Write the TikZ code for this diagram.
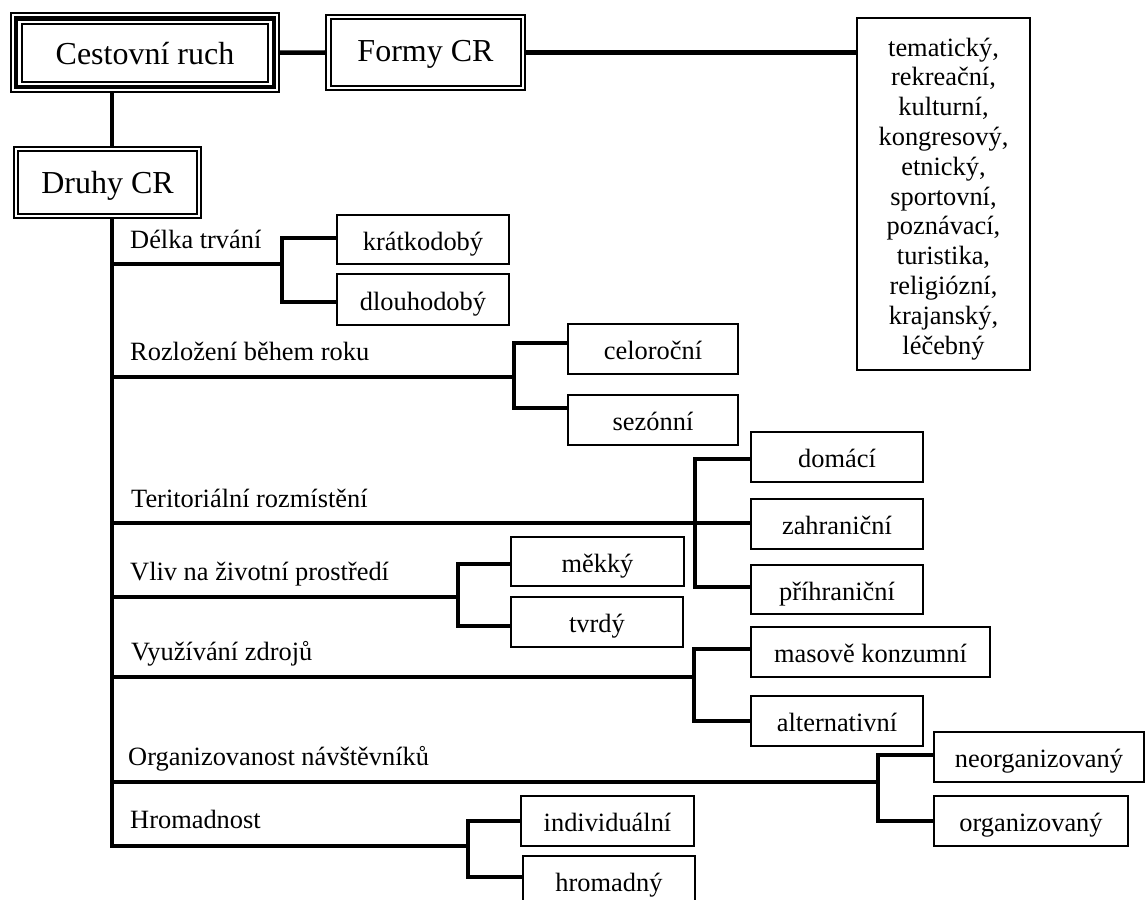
\documentclass[tikz,border=0pt]{standalone}
\usepackage{fontspec}
\setmainfont{Liberation Serif}
\newcommand\myBig{\fontsize{32}{38}\selectfont}
\newcommand\mySmall{\fontsize{26.4}{30}\selectfont}
\newcommand\myList{\fontsize{26.4}{29.8}\selectfont}
\begin{document}
\begin{tikzpicture}[x=1pt,y=-1pt,
  conn/.style={line width=4.5pt},
  thin/.style={line width=2pt},
  sbox/.style={draw, line width=2pt, inner sep=0pt, text height=21pt, text depth=0pt, font=\mySmall},
  bbox/.style={draw, line width=2pt, inner sep=0pt, text height=22pt, text depth=0pt, font=\myBig},
  lab/.style={inner sep=0pt, anchor=base west, font=\mySmall}]
\useasboundingbox (0,0) rectangle (1147,899);
\clip (0,0) rectangle (1147,899);

% main boxes
\node[bbox, minimum width=268pt, minimum height=78.5pt, text height=24pt] (cr) at (145,52.75) {Cestovní ruch};
\draw[line width=4.5pt] ([shift={(6pt,-6pt)}]cr.north west) rectangle ([shift={(-6pt,6pt)}]cr.south east);
\draw[thin] ([shift={(12pt,-11.5pt)}]cr.north west) rectangle ([shift={(-12.5pt,11pt)}]cr.south east);

\node[bbox, minimum width=199pt, minimum height=75pt, text height=19pt] (fcr) at (425.5,52.5) {Formy CR};
\draw[thin] ([shift={(5.5pt,-5.5pt)}]fcr.north west) rectangle ([shift={(-5.5pt,5.5pt)}]fcr.south east);

\node[bbox, minimum width=187pt, minimum height=71pt, text height=21pt] (druhy) at (107.5,182.5) {Druhy CR};
\draw[thin] ([shift={(5pt,-5pt)}]druhy.north west) rectangle ([shift={(-5pt,5pt)}]druhy.south east);

\node[draw, thin, inner sep=0pt, minimum width=173pt, minimum height=352pt, text height=320pt, text depth=0pt, font=\myList] (list) at (943.5,194)
  {\begin{tabular}[b]{@{}c@{}}tematický,\\rekreační,\\kulturní,\\kongresový,\\etnický,\\sportovní,\\poznávací,\\turistika,\\religiózní,\\krajanský,\\léčebný\end{tabular}};

\draw[conn] (cr.east) -- (fcr.west);
\draw[conn] (fcr.east) -- (fcr.east -| list.west);

\coordinate (tx) at (112,0);
\draw[conn] (cr.south -| tx) -- (druhy.north -| tx);

% labels
\node[lab] (l1) at (130,248) {Délka trvání};
\node[lab] (l2) at (130,360) {Rozložení během roku};
\node[lab] (l3) at (131,507) {Teritoriální rozmístění};
\node[lab] (l4) at (130,580) {Vliv na životní prostředí};
\node[lab] (l5) at (131,660) {Využívání zdrojů};
\node[lab] (l6) at (128,765) {Organizovanost návštěvníků};
\node[lab] (l7) at (130,828) {Hromadnost};

% leaf boxes
\node[sbox, minimum width=172pt, minimum height=49pt] (kr) at (423,239.5) {krátkodobý};
\node[sbox, minimum width=172pt, minimum height=51pt] (dl) at (423,299.5) {dlouhodobý};
\node[sbox, minimum width=170pt, minimum height=50pt] (cel) at (653,349) {celoroční};
\node[sbox, minimum width=170pt, minimum height=50pt] (sez) at (653,420) {sezónní};
\node[sbox, minimum width=172pt, minimum height=50pt] (dom) at (837,457) {domácí};
\node[sbox, minimum width=172pt, minimum height=50pt] (zah) at (837,524) {zahraniční};
\node[sbox, minimum width=172pt, minimum height=49pt] (pri) at (837,589.5) {příhraniční};
\node[sbox, minimum width=173pt, minimum height=49pt] (mek) at (597.5,561.5) {měkký};
\node[sbox, minimum width=172pt, minimum height=50pt] (tvr) at (597,622) {tvrdý};
\node[sbox, minimum width=239pt, minimum height=50pt] (mas) at (870.5,652) {masově konzumní};
\node[sbox, minimum width=172pt, minimum height=50pt] (alt) at (837,721) {alternativní};
\node[sbox, minimum width=210pt, minimum height=50pt] (neo) at (1039,757) {neorganizovaný};
\node[sbox, minimum width=194pt, minimum height=50pt] (org) at (1031,821) {organizovaný};
\node[sbox, minimum width=173pt, minimum height=50pt] (ind) at (607.5,821) {individuální};
\node[sbox, minimum width=172pt, minimum height=50pt] (hro) at (609,881) {hromadný};

% bracket points
\coordinate (b1) at (282,264);
\coordinate (b2) at (514,377);
\coordinate (b3) at (695,523);
\coordinate (b4) at (458,597);
\coordinate (b5) at (694,677);
\coordinate (b6) at (878,782);
\coordinate (b7) at (468,846);

% trunk
\draw[conn] (druhy.south -| tx) |- (b7);

% branches
\draw[conn] (tx |- b1) -- (b1);
\draw[conn] ([yshift=1.5pt]kr.west) -| (b1) |- ([yshift=-2.5pt]dl.west);
\draw[conn] (tx |- b2) -- (b2);
\draw[conn] ([yshift=6pt]cel.west) -| (b2) |- ([yshift=12pt]sez.west);
\draw[conn] (tx |- b3) -- (zah.west |- b3);
\draw[conn] ([yshift=-2pt]dom.west) -| (b3) |- ([yshift=2.5pt]pri.west);
\draw[conn] (tx |- b4) -- (b4);
\draw[conn] ([yshift=-2.5pt]mek.west) -| (b4) |- ([yshift=-4pt]tvr.west);
\draw[conn] (tx |- b5) -- (b5);
\draw[conn] ([yshift=3pt]mas.west) -| (b5) |- (alt.west);
\draw[conn] (tx |- b6) -- (b6);
\draw[conn] ([yshift=2pt]neo.west) -| (b6) |- (org.west);
\draw[conn] (ind.west) -| (b7) |- ([yshift=4pt]hro.west);
\end{tikzpicture}
\end{document}
